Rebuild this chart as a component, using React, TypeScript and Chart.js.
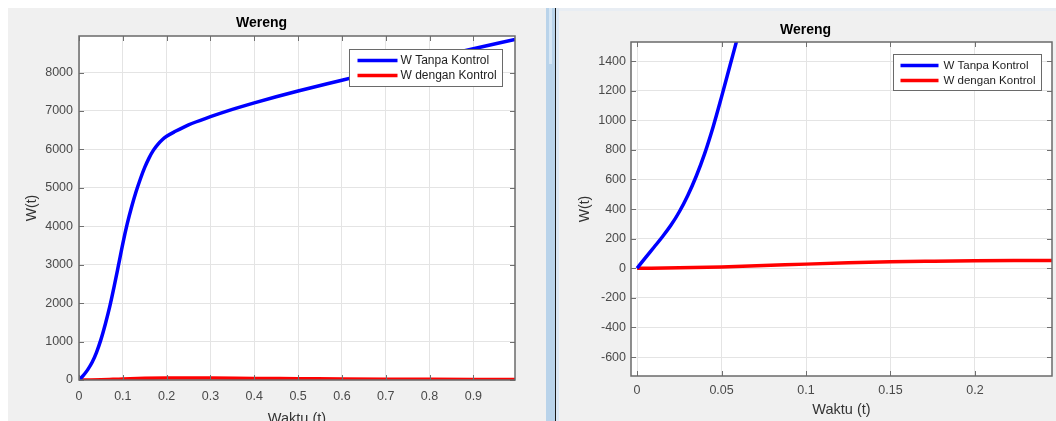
import React, { useEffect, useRef } from "react";
import { Chart, registerables } from "chart.js";

Chart.register(...registerables);

// ---------- text ----------
const chartTitle = "Wereng";
const xAxisLabel = "Waktu (t)";
const yAxisLabel = "W(t)";
const seriesLabels = ["W Tanpa Kontrol", "W dengan Kontrol"];

// ---------- left plot (t from 0 to ~1) ----------
const leftTanpaT = [0, 0.01, 0.02, 0.03, 0.04, 0.05, 0.06, 0.07, 0.08, 0.09, 0.1, 0.11, 0.12, 0.13, 0.14, 0.15, 0.16, 0.17, 0.18, 0.19, 0.2, 0.22, 0.25, 0.3, 0.35, 0.4, 0.45, 0.5, 0.6, 0.7, 0.8, 0.9, 0.995];
const leftTanpaW = [0, 120, 270, 460, 720, 1050, 1450, 1900, 2420, 2980, 3550, 4060, 4500, 4890, 5230, 5530, 5780, 5980, 6130, 6250, 6340, 6470, 6640, 6850, 7040, 7210, 7370, 7520, 7800, 8080, 8350, 8620, 8860];
const leftDenganT = [0, 0.05, 0.1, 0.15, 0.2, 0.25, 0.3, 0.4, 0.5, 0.6, 0.7, 0.8, 0.9, 0.995];
const leftDenganW = [0, 9, 29, 43, 51, 53, 50, 42, 35, 28, 22, 17, 13, 10];

const leftXRange = [0, 0.995];
const leftYRange = [0, 8950];
const leftXTicks = [0, 0.1, 0.2, 0.3, 0.4, 0.5, 0.6, 0.7, 0.8, 0.9];
const leftYTicks = [0, 1000, 2000, 3000, 4000, 5000, 6000, 7000, 8000];

// ---------- right plot (zoomed view) ----------
const rightTanpaT = [0, 0.005, 0.01, 0.015, 0.02, 0.025, 0.03, 0.035, 0.04, 0.045, 0.05, 0.055, 0.06, 0.065];
const rightTanpaW = [0, 72, 142, 213, 290, 382, 492, 622, 775, 955, 1158, 1370, 1582, 1800];
const rightDenganT = [0, 0.025, 0.05, 0.075, 0.1, 0.125, 0.15, 0.175, 0.2, 0.225, 0.25];
const rightDenganW = [0, 3, 9, 18, 28, 37, 44, 48, 51, 52, 52];

const rightXRange = [-0.0036, 0.2456];
const rightYRange = [-728, 1529];
const rightXTicks = [0, 0.05, 0.1, 0.15, 0.2];
const rightYTicks = [-600, -400, -200, 0, 200, 400, 600, 800, 1000, 1200, 1400];

const seriesColors = ["#0000ff", "#ff0000"];

const FONT = '"Liberation Sans", Arial, Helvetica, sans-serif';

const toPoints = (t: number[], w: number[]) => t.map((v, i) => ({ x: v, y: w[i] }));
const fmt = (v: number) => String(Math.round(v * 10000) / 10000);

const matlabPlugin = {
  id: "matlabBox",
  beforeDraw(chart: any) {
    const { ctx, chartArea: a } = chart;
    ctx.save();
    ctx.fillStyle = "#ffffff";
    ctx.fillRect(a.left, a.top, a.right - a.left, a.bottom - a.top);
    ctx.restore();
  },
  afterDatasetsDraw(chart: any, _args: any, opts: any) {
    const { ctx, chartArea: a, scales } = chart;
    ctx.save();
    // inner tick marks on all four sides
    ctx.strokeStyle = "#707070";
    ctx.lineWidth = 1;
    const tl = 5;
    ctx.beginPath();
    scales.x.ticks.forEach((t: any) => {
      const px = Math.round(scales.x.getPixelForValue(t.value)) + 0.5;
      ctx.moveTo(px, a.bottom);
      ctx.lineTo(px, a.bottom - tl);
      ctx.moveTo(px, a.top);
      ctx.lineTo(px, a.top + tl);
    });
    scales.y.ticks.forEach((t: any) => {
      const py = Math.round(scales.y.getPixelForValue(t.value)) + 0.5;
      ctx.moveTo(a.left, py);
      ctx.lineTo(a.left + tl, py);
      ctx.moveTo(a.right, py);
      ctx.lineTo(a.right - tl, py);
    });
    ctx.stroke();
    // box
    ctx.strokeStyle = "#6a6a6a";
    ctx.lineWidth = 1.5;
    ctx.strokeRect(a.left, a.top, a.right - a.left, a.bottom - a.top);

    // legend box (MATLAB style, inside the axes, upper right)
    const lg = opts;
    const bx = Math.round(a.right - lg.right - lg.width) + 0.5;
    const by = Math.round(a.top + lg.top) + 0.5;
    ctx.fillStyle = "#ffffff";
    ctx.fillRect(bx, by, lg.width, lg.height);
    ctx.strokeStyle = "#6a6a6a";
    ctx.lineWidth = 1;
    ctx.strokeRect(bx, by, lg.width, lg.height);
    chart.data.datasets.forEach((ds: any, i: number) => {
      const y = by + lg.firstRow + i * lg.rowGap;
      ctx.strokeStyle = ds.borderColor;
      ctx.lineWidth = 3.5;
      ctx.beginPath();
      ctx.moveTo(bx + lg.lineStart, y);
      ctx.lineTo(bx + lg.lineStart + lg.lineLen, y);
      ctx.stroke();
      ctx.fillStyle = "#1e1e1e";
      ctx.font = `${lg.fontSize}px ${FONT}`;
      ctx.textBaseline = "middle";
      ctx.textAlign = "left";
      ctx.fillText(ds.label, bx + lg.textStart, y + 0.5);
    });
    ctx.restore();
  },
};

type PlotCfg = {
  width: number;
  height: number;
  tanpa: { x: number; y: number }[];
  dengan: { x: number; y: number }[];
  xRange: number[];
  yRange: number[];
  xTicks: number[];
  yTicks: number[];
  yAxisWidth: number;
  xAxisHeight: number;
  rightPad: number;
  titlePad: { top: number; bottom: number };
  yTitlePad: number;
  xTitlePad: number;
  xTickPad: number;
  yTickPad: number;
  legend: any;
};

function MatlabPlot({ cfg }: { cfg: PlotCfg }) {
  const ref = useRef<HTMLCanvasElement | null>(null);
  useEffect(() => {
    if (!ref.current) return;
    const chart = new Chart(ref.current, {
      type: "line",
      data: {
        datasets: [
          {
            label: seriesLabels[0],
            data: cfg.tanpa,
            borderColor: seriesColors[0],
            backgroundColor: seriesColors[0],
            borderWidth: 3.5,
            pointRadius: 0,
            cubicInterpolationMode: "monotone",
          },
          {
            label: seriesLabels[1],
            data: cfg.dengan,
            borderColor: seriesColors[1],
            backgroundColor: seriesColors[1],
            borderWidth: 3.5,
            pointRadius: 0,
            cubicInterpolationMode: "monotone",
          },
        ],
      },
      options: {
        animation: false,
        responsive: false,
        devicePixelRatio: 1,
        layout: { padding: { left: 0, right: cfg.rightPad, top: 0, bottom: 0 } },
        plugins: {
          legend: { display: false },
          tooltip: { enabled: false },
          title: {
            display: true,
            text: chartTitle,
            color: "#000000",
            font: { family: FONT, size: 14, weight: "bold" },
            padding: cfg.titlePad,
          },
          matlabBox: cfg.legend,
        } as any,
        scales: {
          x: {
            type: "linear",
            min: cfg.xRange[0],
            max: cfg.xRange[1],
            border: { display: false },
            grid: { color: "#e4e4e4", lineWidth: 1, drawTicks: false },
            afterBuildTicks: (s: any) => {
              s.ticks = cfg.xTicks.map((v) => ({ value: v }));
            },
            ticks: {
              padding: cfg.xTickPad,
              color: "#4a4a4a",
              font: { family: FONT, size: 12.5 },
              maxRotation: 0,
              autoSkip: false,
              callback: (v: any) => fmt(Number(v)),
            },
            title: {
              display: true,
              text: xAxisLabel,
              color: "#333333",
              font: { family: FONT, size: 14.5 },
              padding: { top: 0, bottom: cfg.xTitlePad },
            },
            afterFit: (s: any) => {
              s.height = cfg.xAxisHeight;
            },
          },
          y: {
            type: "linear",
            min: cfg.yRange[0],
            max: cfg.yRange[1],
            border: { display: false },
            grid: { color: "#e4e4e4", lineWidth: 1, drawTicks: false },
            afterBuildTicks: (s: any) => {
              s.ticks = cfg.yTicks.map((v) => ({ value: v }));
            },
            ticks: {
              padding: cfg.yTickPad,
              color: "#4a4a4a",
              font: { family: FONT, size: 12.5 },
              autoSkip: false,
              callback: (v: any) => fmt(Number(v)),
            },
            title: {
              display: true,
              text: yAxisLabel,
              color: "#333333",
              font: { family: FONT, size: 14 },
              padding: { top: cfg.yTitlePad, bottom: 0 },
            },
            afterFit: (s: any) => {
              s.width = cfg.yAxisWidth;
            },
          },
        },
      } as any,
      plugins: [matlabPlugin as any],
    });
    return () => chart.destroy();
  }, [cfg]);
  return (
    <canvas
      ref={ref}
      width={cfg.width}
      height={cfg.height}
      style={{ display: "block", width: cfg.width, height: cfg.height }}
    />
  );
}

const leftCfg: PlotCfg = {
  width: 538,
  height: 425,
  tanpa: toPoints(leftTanpaT, leftTanpaW),
  dengan: toPoints(leftDenganT, leftDenganW),
  xRange: leftXRange,
  yRange: leftYRange,
  xTicks: leftXTicks,
  yTicks: leftYTicks,
  yAxisWidth: 71,
  xAxisHeight: 53,
  rightPad: 31,
  titlePad: { top: 6.6, bottom: 4.6 },
  yTitlePad: 16.2,
  xTitlePad: 5,
  xTickPad: 9.5,
  yTickPad: 6,
  legend: { right: 13, top: 13, width: 153, height: 37, firstRow: 11, rowGap: 15, lineStart: 8, lineLen: 40, textStart: 51, fontSize: 12 },
};

const rightCfg: PlotCfg = {
  width: 497,
  height: 413,
  tanpa: toPoints(rightTanpaT, rightTanpaW),
  dengan: toPoints(rightDenganT, rightDenganW),
  xRange: rightXRange,
  yRange: rightYRange,
  xTicks: rightXTicks,
  yTicks: rightYTicks,
  yAxisWidth: 72,
  xAxisHeight: 45,
  rightPad: 4,
  titlePad: { top: 13.6, bottom: 3.6 },
  yTitlePad: 18.2,
  xTitlePad: 2.2,
  xTickPad: 7.5,
  yTickPad: 5,
  legend: { right: 11, top: 12, width: 148, height: 36, firstRow: 11, rowGap: 15, lineStart: 7, lineLen: 38, textStart: 50, fontSize: 11.5 },
};

export default function App() {
  return (
    <div
      style={{
        position: "fixed",
        left: 0,
        top: 0,
        width: 1056,
        height: 421,
        overflow: "hidden",
        background: "#ffffff",
      }}
    >
      {/* left figure panel */}
      <div style={{ position: "absolute", left: 8, top: 8, width: 538, height: 413, background: "#f0f0f0", overflow: "hidden" }}>
        <MatlabPlot cfg={leftCfg} />
      </div>
      {/* separator */}
      <div style={{ position: "absolute", left: 546, top: 8, width: 9, height: 413, background: "#b9d3ea" }} />
      <div style={{ position: "absolute", left: 549, top: 8, width: 3, height: 56, background: "#d6e6f4" }} />
      <div style={{ position: "absolute", left: 555, top: 8, width: 1, height: 413, background: "#1a1a1a" }} />
      <div style={{ position: "absolute", left: 556, top: 8, width: 3, height: 413, background: "#dce8f4" }} />
      {/* right figure panel */}
      <div style={{ position: "absolute", left: 559, top: 8, width: 497, height: 413, background: "#f0f0f0", overflow: "hidden" }}>
        <div style={{ position: "absolute", left: 0, top: 0, width: 497, height: 3, background: "#e8edf3" }} />
        <div style={{ position: "absolute", left: 0, top: 0 }}>
          <MatlabPlot cfg={rightCfg} />
        </div>
      </div>
    </div>
  );
}
